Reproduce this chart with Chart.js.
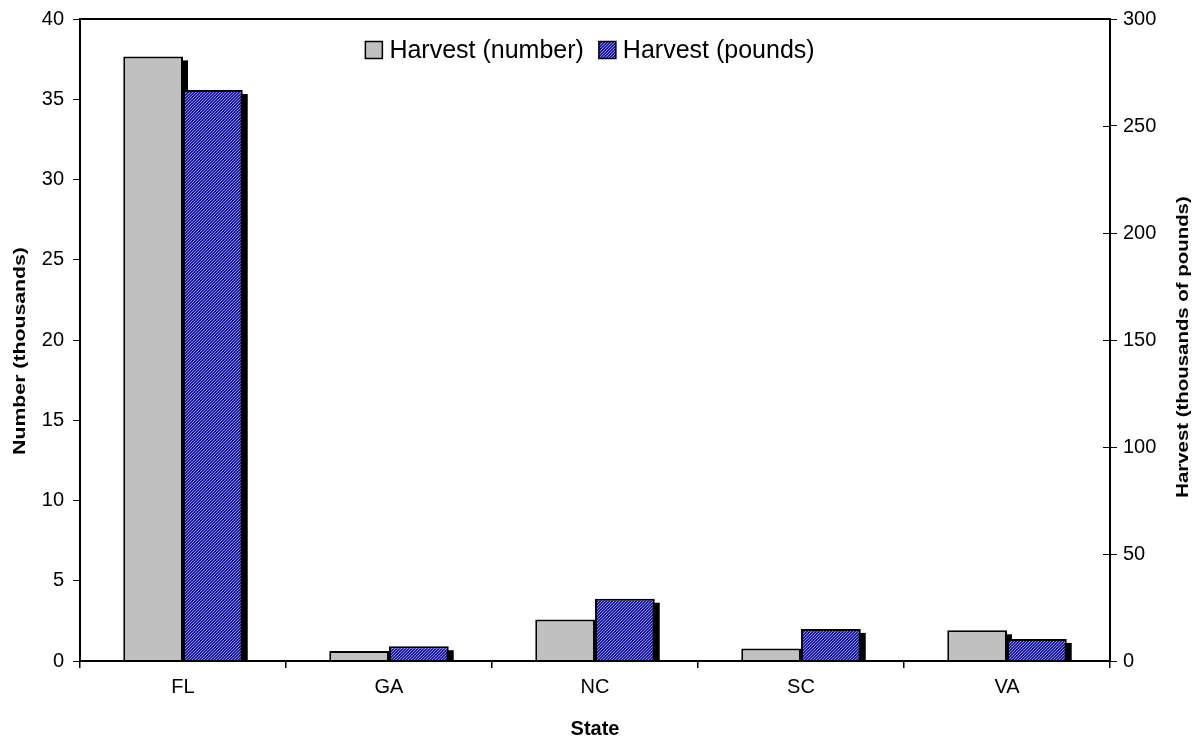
<!DOCTYPE html>
<html><head><meta charset="utf-8">
<script src="https://cdn.jsdelivr.net/npm/chart.js@4/dist/chart.umd.min.js"></script>
<style>html,body{margin:0;padding:0;background:#fff;overflow:hidden}#wrap{width:1199px;height:742px;position:relative}</style>
</head><body><div id="wrap"><canvas id="c" width="1199" height="742"></canvas></div>
<script>
// ---- data ----
const states = ['FL', 'GA', 'NC', 'SC', 'VA'];
const harvestNumber = [37.67, 0.62, 2.58, 0.78, 1.91];      // thousands (left axis)
const harvestPounds = [266.8, 6.9, 29.1, 15.0, 10.3];       // thousands of pounds (right axis)
const seriesNames = ['Harvest (number)', 'Harvest (pounds)'];
const leftAxis = { min: 0, max: 40, step: 5 };
const rightAxis = { min: 0, max: 300, step: 50 };
const titleX = 'State';
const titleY = 'Number (thousands)';
const titleY2 = 'Harvest (thousands of pounds)';

const FAMILY = '"Liberation Sans", Arial, sans-serif';
Chart.defaults.font.family = FAMILY;
Chart.defaults.color = '#000';

function hatch() {
  const n = 3;
  const c = document.createElement('canvas'); c.width = n; c.height = n;
  const g = c.getContext('2d');
  g.fillStyle = '#20209a'; g.fillRect(0, 0, n, n);
  g.fillStyle = '#8484ec';
  for (let x = 0; x < n; x++) g.fillRect(x, n - 1 - x, 1, 1);
  return g.createPattern(c, 'repeat');
}
const hatchFill = hatch();

const shadowPlugin = {
  id: 'barShadow',
  beforeDatasetsDraw(chart) {
    const { ctx, chartArea: a } = chart;
    ctx.save();
    ctx.beginPath(); ctx.rect(a.left, a.top, a.right - a.left, a.bottom - a.top); ctx.clip();
    ctx.fillStyle = '#000';
    chart.data.datasets.forEach((ds, i) => {
      const meta = chart.getDatasetMeta(i);
      meta.data.forEach(el => {
        const p = el.getProps(['x', 'y', 'base', 'width'], true);
        ctx.fillRect(p.x - p.width / 2 + 5, p.y + 4, p.width, p.base - p.y);
      });
    });
    ctx.restore();
  }
};

const decorPlugin = {
  id: 'decor',
  afterDraw(chart) {
    const { ctx, chartArea: a } = chart;
    ctx.save();
    // top frame line
    ctx.strokeStyle = '#000'; ctx.lineWidth = 2;
    ctx.beginPath(); ctx.moveTo(a.left - 1, a.top); ctx.lineTo(a.right + 1, a.top); ctx.stroke();
    // inner ticks on right axis
    const s2 = chart.scales.y2;
    ctx.lineWidth = 1;
    s2.ticks.forEach(t => {
      const y = Math.round(s2.getPixelForValue(t.value)) + 0.5;
      ctx.beginPath(); ctx.moveTo(a.right - 7, y); ctx.lineTo(a.right, y); ctx.stroke();
    });
    // legend (inside plot, top centre) from the library's generated legend items
    const items = Chart.defaults.plugins.legend.labels.generateLabels(chart);
    ctx.font = '25px ' + FAMILY;
    ctx.textAlign = 'left'; ctx.textBaseline = 'middle';
    const box = 17, gapBT = 7, gapItem = 15;
    const widths = items.map(it => box + gapBT + ctx.measureText(it.text).width);
    const total = widths.reduce((s, w) => s + w, 0) + gapItem * (items.length - 1);
    let lx = (a.left + a.right) / 2 - 5 - total / 2;
    const ly = 50;
    items.forEach((it, i) => {
      ctx.fillStyle = it.fillStyle;
      ctx.fillRect(lx, ly - box / 2, box, box);
      ctx.lineWidth = 1.5; ctx.strokeStyle = '#000';
      ctx.strokeRect(lx, ly - box / 2, box, box);
      ctx.fillStyle = '#000';
      ctx.fillText(it.text, lx + box + gapBT, ly + 1);
      lx += widths[i] + gapItem;
    });
    // axis titles
    ctx.fillStyle = '#000';
    ctx.font = 'bold 17px ' + FAMILY;
    ctx.textAlign = 'center'; ctx.textBaseline = 'middle';
    const cy = (a.top + a.bottom) / 2;
    const vtext = (text, x, y, stretch) => {
      ctx.save(); ctx.translate(x, y); ctx.rotate(-Math.PI / 2); ctx.scale(stretch, 1);
      ctx.fillText(text, 0, 0); ctx.restore();
    };
    vtext(titleY, 20, cy + 11, 1.25);
    vtext(titleY2, chart.width - 16, cy + 7, 1.2);
    ctx.font = 'bold 20px ' + FAMILY;
    ctx.fillText(titleX, (a.left + a.right) / 2, 729);
    ctx.restore();
  }
};

new Chart(document.getElementById('c'), {
  type: 'bar',
  data: {
    labels: states,
    datasets: [
      { label: seriesNames[0], data: harvestNumber, yAxisID: 'y',
        backgroundColor: '#c0c0c0', borderColor: '#000', borderWidth: 2,
        categoryPercentage: 0.58, barPercentage: 1.0 },
      { label: seriesNames[1], data: harvestPounds, yAxisID: 'y2',
        backgroundColor: hatchFill, borderColor: '#000', borderWidth: 2,
        categoryPercentage: 0.58, barPercentage: 1.0 }
    ]
  },
  options: {
    responsive: false,
    animation: false,
    devicePixelRatio: 1,
    layout: { padding: { top: 17, left: 0, right: 0, bottom: 0 } },
    plugins: {
      legend: { display: false },
      tooltip: { enabled: false },
      title: { display: false }
    },
    scales: {
      x: {
        grid: { display: true, drawOnChartArea: false, drawTicks: true, tickLength: 7, color: '#000', lineWidth: 1.5, offset: true },
        border: { color: '#000', width: 2, z: 1 },
        ticks: { font: { size: 20 }, color: '#000', padding: 7 },
        afterFit(s) { s.height = 81; }
      },
      y: {
        position: 'left', min: leftAxis.min, max: leftAxis.max,
        ticks: { stepSize: leftAxis.step, font: { size: 20, lineHeight: 1 }, color: '#000', padding: 9 },
        grid: { display: true, drawOnChartArea: false, tickLength: 7, color: '#000' },
        border: { color: '#000', width: 2, z: 1 },
        afterFit(s) { s.width = 80; }
      },
      y2: {
        position: 'right', min: rightAxis.min, max: rightAxis.max,
        ticks: { stepSize: rightAxis.step, font: { size: 20, lineHeight: 1 }, color: '#000', padding: 6 },
        grid: { display: true, drawOnChartArea: false, tickLength: 7, color: '#000' },
        border: { color: '#000', width: 2, z: 1 },
        afterFit(s) { s.width = 89; }
      }
    }
  },
  plugins: [shadowPlugin, decorPlugin]
});
</script>
</body></html>
